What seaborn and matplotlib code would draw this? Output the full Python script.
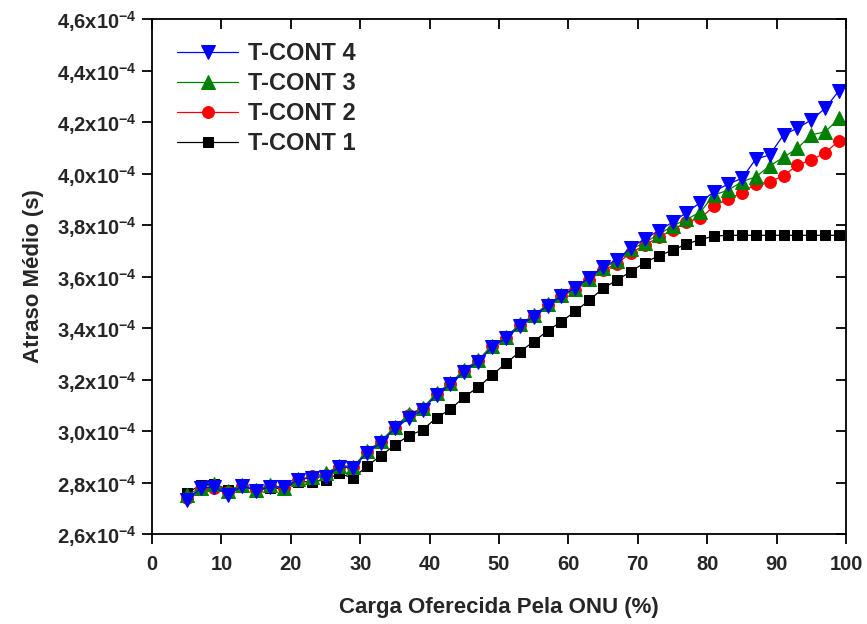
import numpy as np
import pandas as pd
import matplotlib
matplotlib.use("Agg")
import matplotlib.pyplot as plt
from matplotlib.ticker import FuncFormatter, MultipleLocator
import seaborn as sns

# Offered load per ONU (%)
carga = list(range(5, 100, 2))

# Mean delay per T-CONT, in units of 1e-4 s
atraso_tcont1 = [2.758, 2.790, 2.795, 2.771, 2.784, 2.771, 2.777, 2.777, 2.803, 2.803, 2.810, 2.836, 2.816,
                 2.865, 2.904, 2.946, 2.982, 3.004, 3.052, 3.084, 3.133, 3.170, 3.217, 3.263, 3.308, 3.347, 3.389, 3.425,
                 3.465, 3.508, 3.554, 3.586, 3.619, 3.654, 3.680, 3.702, 3.726, 3.743,
                 3.757, 3.760, 3.760, 3.760, 3.760, 3.760, 3.760, 3.760, 3.760, 3.760]
atraso_tcont2 = [2.740, 2.775, 2.780, 2.762, 2.787, 2.770, 2.788, 2.780, 2.810, 2.824, 2.830, 2.862, 2.860,
                 2.920, 2.958, 3.013, 3.062, 3.086, 3.143, 3.184, 3.234, 3.273, 3.330, 3.363, 3.411, 3.447, 3.489, 3.524,
                 3.548, 3.585, 3.625, 3.650, 3.692, 3.722, 3.752, 3.781, 3.812, 3.826,
                 3.874, 3.900, 3.925, 3.959, 3.968, 3.991, 4.033, 4.052, 4.081, 4.127]
atraso_tcont3 = [2.750, 2.780, 2.795, 2.768, 2.792, 2.772, 2.790, 2.780, 2.812, 2.822, 2.835, 2.866, 2.862,
                 2.922, 2.962, 3.016, 3.065, 3.090, 3.146, 3.187, 3.238, 3.276, 3.332, 3.366, 3.414, 3.450, 3.492, 3.528,
                 3.553, 3.591, 3.633, 3.660, 3.705, 3.732, 3.763, 3.796, 3.822, 3.850,
                 3.917, 3.935, 3.968, 3.987, 4.029, 4.063, 4.098, 4.150, 4.162, 4.214]
atraso_tcont4 = [2.732, 2.777, 2.784, 2.751, 2.788, 2.767, 2.784, 2.781, 2.810, 2.819, 2.823, 2.861, 2.857,
                 2.916, 2.955, 3.010, 3.049, 3.082, 3.140, 3.181, 3.230, 3.269, 3.325, 3.360, 3.408, 3.444, 3.487, 3.524,
                 3.557, 3.595, 3.638, 3.665, 3.712, 3.746, 3.778, 3.811, 3.848, 3.887,
                 3.930, 3.959, 3.981, 4.056, 4.072, 4.150, 4.176, 4.208, 4.253, 4.322]

series_names = ["T-CONT 4", "T-CONT 3", "T-CONT 2", "T-CONT 1"]
series_values = [atraso_tcont4, atraso_tcont3, atraso_tcont2, atraso_tcont1]
series_colors = ["#0000FF", "#008000", "#FF0000", "#000000"]
series_markers = ["v", "^", "o", "s"]
series_msizes = [9.5, 9.5, 8.5, 7.5]

sns.set_style("ticks")
plt.rcParams["font.family"] = ["Liberation Sans", "DejaVu Sans"]
plt.rcParams["font.weight"] = "bold"
plt.rcParams["mathtext.fontset"] = "custom"
plt.rcParams["mathtext.rm"] = "Liberation Sans:bold"
plt.rcParams["mathtext.bf"] = "Liberation Sans:bold"
plt.rcParams["mathtext.it"] = "Liberation Sans:bold"
plt.rcParams["mathtext.default"] = "bf"

fig = plt.figure(figsize=(8.67, 6.24), dpi=100)
ax = fig.add_axes([0.17532, 0.14423, 0.80046, 0.82532])

# draw T-CONT 1 first so the others sit on top
for name, vals, col, mk, ms in reversed(list(zip(series_names, series_values, series_colors,
                                                 series_markers, series_msizes))):
    df = pd.DataFrame({"carga": carga, "atraso": np.array(vals) * 1e-4})
    sns.lineplot(data=df, x="carga", y="atraso", ax=ax, color=col, marker=mk,
                 markersize=ms, markeredgecolor=col, markerfacecolor=col,
                 linewidth=0.9, label=name, estimator=None, sort=False)

ax.set_xlim(0, 100)
ax.set_ylim(2.6e-4, 4.6e-4)
ax.xaxis.set_major_locator(MultipleLocator(10))
ax.yaxis.set_major_locator(MultipleLocator(0.2e-4))


def fmt_y(v, pos):
    mant = v / 1e-4
    return ("%.1f" % mant).replace(".", ",") + r"x10$^{-4}$"


ax.yaxis.set_major_formatter(FuncFormatter(fmt_y))

for side in ["top", "right", "bottom", "left"]:
    ax.spines[side].set_visible(True)
    ax.spines[side].set_linewidth(1.3)
    ax.spines[side].set_color("black")

ax.tick_params(axis="both", which="major", direction="out", length=7, width=1.3,
               labelsize=14.5, color="black")
ax.tick_params(axis="x", pad=8)
ax.tick_params(axis="y", pad=4)
# inward ticks on the mirrored axes
ax.tick_params(axis="x", which="major", top=True)
ax.tick_params(axis="y", which="major", right=True)
for t in ax.xaxis.get_major_ticks():
    t.tick2line.set_marker(matplotlib.lines.TICKDOWN)
for t in ax.yaxis.get_major_ticks():
    t.tick2line.set_marker(matplotlib.lines.TICKLEFT)

for lbl in ax.get_xticklabels() + ax.get_yticklabels():
    lbl.set_fontweight("bold")

ax.set_xlabel("Carga Oferecida Pela ONU (%)", fontsize=16, fontweight="bold", labelpad=17)
ax.set_ylabel("Atraso Médio (s)", fontsize=16, fontweight="bold", labelpad=9)

handles, labels = ax.get_legend_handles_labels()
order = [labels.index(n) for n in series_names]
leg = ax.legend([handles[i] for i in order], [labels[i] for i in order],
                loc="upper left", bbox_to_anchor=(0.036, 0.955), frameon=False,
                prop={"family": "Liberation Sans", "weight": "bold", "size": 17},
                handlelength=2.6, handletextpad=0.4, labelspacing=0.3,
                borderpad=0, borderaxespad=0)

fig.savefig("out.png", dpi=100)
